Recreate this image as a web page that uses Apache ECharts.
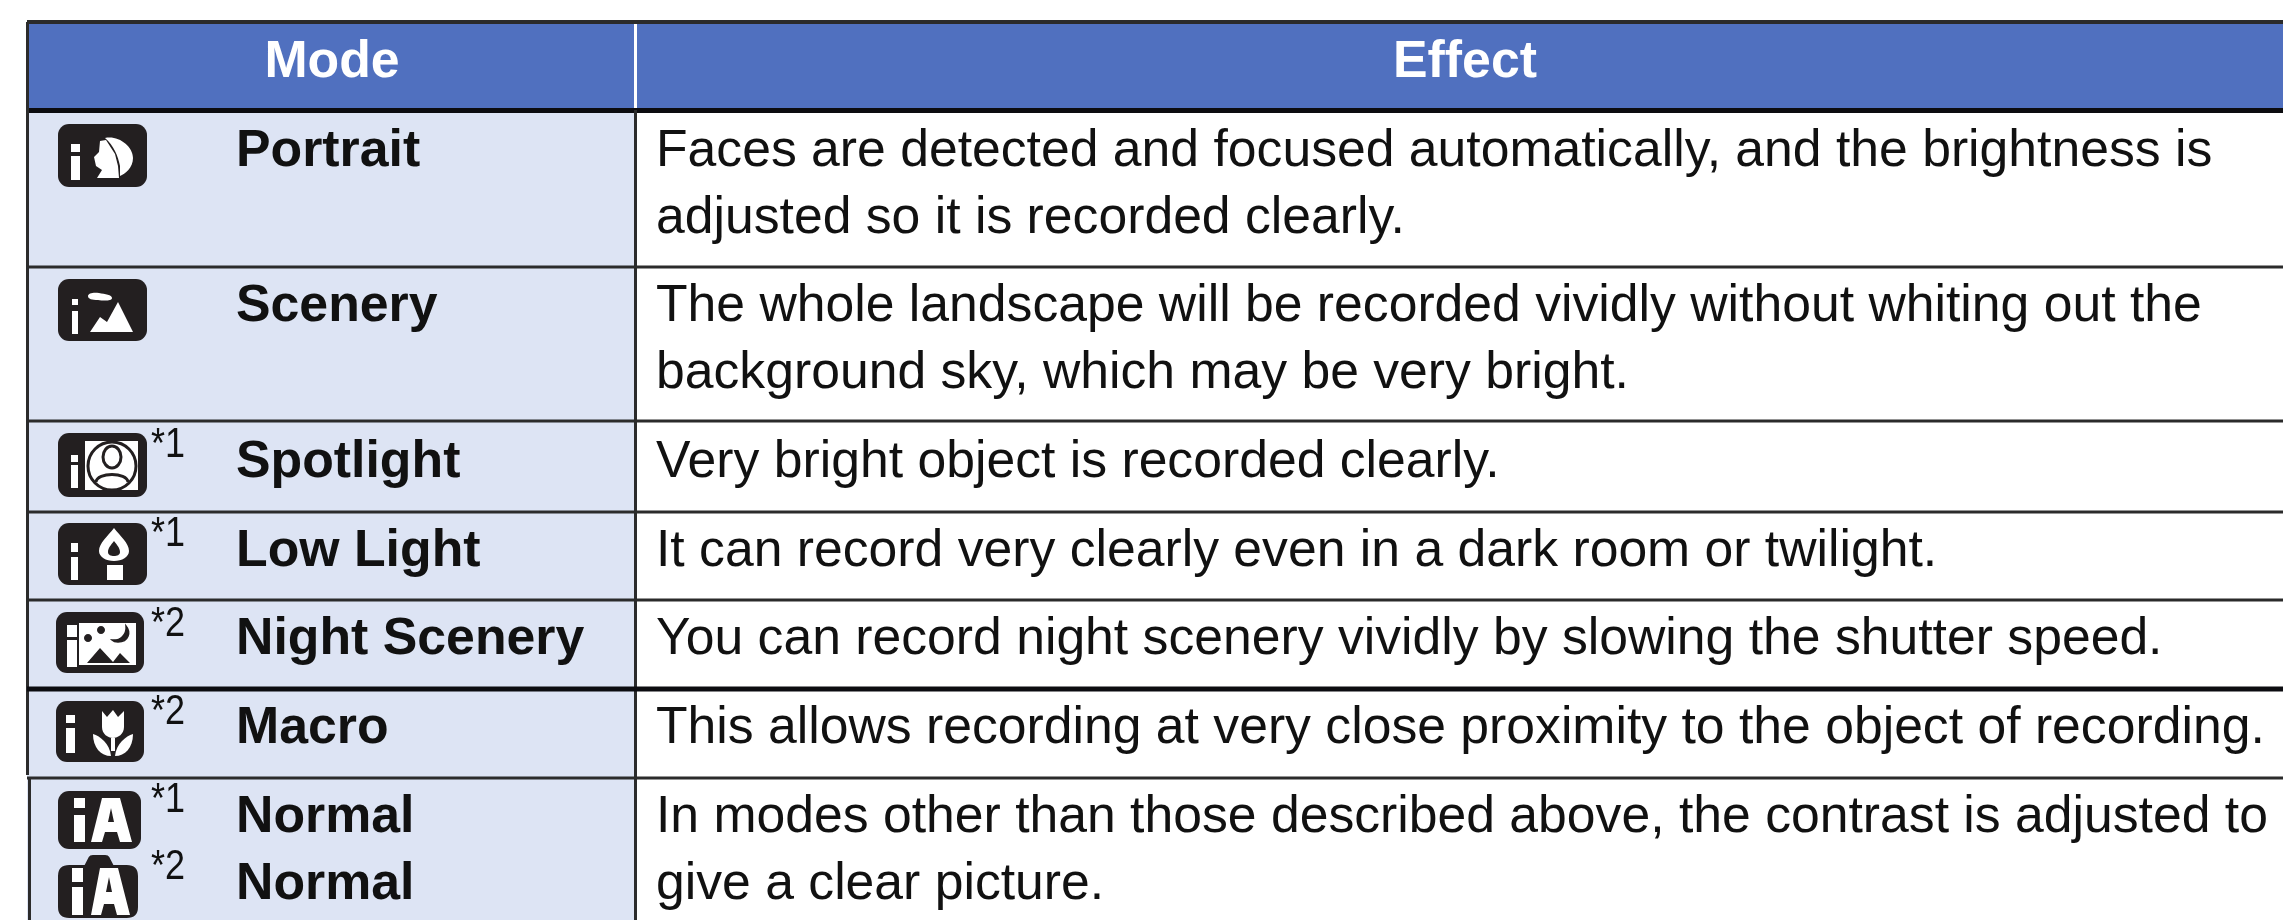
<!DOCTYPE html>
<html>
<head>
<meta charset="utf-8">
<title>Mode / Effect</title>
<style>
  html, body { margin: 0; padding: 0; background: #fff; }
  #main { width: 2283px; height: 920px; }
</style>
</head>
<body>
<div id="main"></div>
<script src="https://cdn.jsdelivr.net/npm/echarts@6/dist/echarts.min.js"></script>
<script>
// table content
const headers = ['Mode', 'Effect']
const modeLabels = ['Portrait', 'Scenery', 'Spotlight', 'Low Light', 'Night Scenery', 'Macro', 'Normal', 'Normal']
const footnotes = ['', '', '*1', '*1', '*2', '*2', '*1', '*2']
const effectLines = [
  'Faces are detected and focused automatically, and the brightness is',
  'adjusted so it is recorded clearly.',
  'The whole landscape will be recorded vividly without whiting out the',
  'background sky, which may be very bright.',
  'Very bright object is recorded clearly.',
  'It can record very clearly even in a dark room or twilight.',
  'You can record night scenery vividly by slowing the shutter speed.',
  'This allows recording at very close proximity to the object of recording.',
  'In modes other than those described above, the contrast is adjusted to',
  'give a clear picture.'
]
const iconNames = ['portrait', 'scenery', 'spotlight', 'lowLight', 'night', 'macro', 'iaPlain', 'iaCamera']

// layout, in pixels of the 2283x920 picture
const W = 2283
const H = 920
const tableLeft = 27
const dividerX = 635
const tableTop = 22
const headerBottom = 110
const rowEdges = [267, 421, 512, 600, 689, 778]
const rowEdgeWidths = [3, 3, 3, 3, 5, 3]
const modeTextX = 236
const effectTextX = 656
const footnoteX = 151
const headerCenters = [332, 1465]
const headerY = 63
const modeTextY = [152, 307, 463, 552, 640, 729, 818, 885]
const effectTextY = [152, 219, 307, 374, 463, 552, 640, 729, 818, 885]
const footnoteY = [0, 0, 445, 534, 624, 712, 800, 867]
const iconBoxes = [
  [58, 124, 89, 63], [58, 279, 89, 62], [58, 433, 89, 64], [58, 523, 89, 62],
  [56, 612, 88, 61], [56, 701, 88, 61], [58, 791, 83, 58], [58, 855, 80, 63]
]

const fontFamily = '"Liberation Sans", Arial, sans-serif'
const bodyFontSize = 51.7
const boldFontSize = 51.8
const inkColor = '#111111'
const iconColor = '#231f20'
const lineColor = '#2b2b2b'

// icon artwork, local pixels from the top-left of each icon box
const G = {
  portrait: [
    { d: 'M13 20H22V28H13ZM13 32H22V56H13Z' },
    { d: 'M47 14C60 11 75 22 75 34C75 44 67 50 62 52L62 42C60 32 56 22 47 14Z' },
    { d: 'M42 17L48 16L57 30L60 42L61 54L39 54L44 46L38 42L36 33L41 28Z' }
  ],
  scenery: [
    { d: 'M14 20H20V26H14ZM14 32H20V55H14Z' },
    { d: 'M30 17C30 14 36 13 41 14C47 15 54 16 54 19C54 22 46 22 40 21C34 21 30 20 30 17Z' },
    { d: 'M32 53L42 38L49 43L60 23L75 53Z' }
  ],
  spotlight: [
    { d: 'M13 22H20V29H13ZM13 32H20V55H13Z' },
    { d: 'M27 8H80V57H27Z' },
    { ellipse: [54, 33, 24, 24], stroke: iconColor, lw: 3 },
    { ellipse: [54, 24, 9, 11], stroke: iconColor, lw: 3 },
    { d: 'M38 49C39 39 69 39 70 49', stroke: iconColor, lw: 3 }
  ],
  lowLight: [
    { d: 'M13 20H20V29H13ZM13 34H20V57H13Z' },
    { d: 'M56 5C62 13 71 20 71 28C71 34 64 38 56 38C48 38 41 34 41 28C41 20 50 13 56 5Z' },
    { d: 'M56 18C59 22 62 25 62 29C62 32 59 33 56 33C53 33 50 32 50 29C50 25 53 22 56 18Z', fill: iconColor },
    { d: 'M49 42H65V57H49Z' }
  ],
  night: [
    { d: 'M11 13H21V25H11ZM11 28H21V55H11Z' },
    { d: 'M23 11H80V53H23Z' },
    { ellipse: [32, 26, 4, 4], fill: iconColor },
    { ellipse: [45, 18, 4, 4], fill: iconColor },
    { d: 'M70 14C75 20 73 30 62 30C59 30 57 29 56 28C64 29 71 23 70 14Z', fill: iconColor, stroke: iconColor, lw: 1.5 },
    { d: 'M31 51L44 36L57 50L64 41L74 51Z', fill: iconColor }
  ],
  macro: [
    { d: 'M10 14H19V22H10ZM10 27H19V52H10Z' },
    { d: 'M46 10L51 16L57 9L62 16L68 10V26C68 33 62 37 57 37C52 37 46 33 46 26Z' },
    { d: 'M55 37H59V50H55Z' },
    { d: 'M37 33C44 35 54 43 55 55C45 55 37 47 37 33Z' },
    { d: 'M77 33C70 35 60 43 59 55C69 55 77 47 77 33Z' }
  ],
  iaPlain: [
    { d: 'M16 7H27V17H16ZM16 24H27V51H16Z' },
    { d: 'M44 7H62L74 51H62L59 41H47L44 51H33Z' },
    { d: 'M50 31H56L53 17Z', fill: iconColor }
  ],
  iaCamera: [
    { d: 'M14 13H25V27H14ZM14 32H25V60H14Z' },
    { d: 'M42 13H60L72 60H59L56 49H46L43 60H33Z' },
    { d: 'M48 37H54L51 22Z', fill: iconColor }
  ]
}

const camBody = 'M12 10L27 10L31 2Q32 0 35 0L47 0Q50 0 51 2L55 10L68 10Q79 10 79 21L79 52Q79 63 68 63L12 63Q1 63 1 52L1 21Q1 10 12 10Z'

function renderText(params, api) {
  let p = api.coord([api.value(0), api.value(1)])
  let item = textItems[params.dataIndex]
  return {
    type: 'text',
    x: p[0],
    y: p[1],
    scaleY: item.scaleY || 1,
    silent: true,
    style: {
      text: item.text,
      fill: item.color,
      fontFamily: fontFamily,
      fontSize: item.size,
      fontWeight: item.weight,
      textAlign: item.align,
      textVerticalAlign: 'middle'
    }
  }
}

function renderBlock(params, api) {
  let a = api.coord([api.value(0), api.value(1)])
  let b = api.coord([api.value(2), api.value(3)])
  return {
    type: 'rect',
    silent: true,
    shape: { x: a[0], y: a[1], width: b[0] - a[0], height: b[1] - a[1] },
    style: { fill: blockItems[params.dataIndex].color }
  }
}

function renderIcon(params, api) {
  let a = api.coord([api.value(0), api.value(1)])
  let w = api.value(2)
  let h = api.value(3)
  let name = iconNames[params.dataIndex]
  let children = []
  if (name === 'iaCamera') {
    children.push({ type: 'path', shape: { pathData: camBody, x: 0, y: 0, width: w, height: h, layout: 'cover' }, style: { fill: iconColor } })
  } else {
    children.push({ type: 'rect', shape: { x: 0, y: 0, width: w, height: h, r: 11 }, style: { fill: iconColor } })
  }
  G[name].forEach(function (g) {
    let style = { fill: g.fill || (g.stroke ? 'none' : '#fff'), stroke: g.stroke || null, lineWidth: g.lw || 0 }
    if (g.ellipse) {
      children.push({ type: 'ellipse', shape: { cx: g.ellipse[0], cy: g.ellipse[1], rx: g.ellipse[2], ry: g.ellipse[3] }, style: style })
    } else {
      children.push({ type: 'path', shape: { d: g.d }, style: style })
    }
  })
  return { type: 'group', x: a[0], y: a[1], silent: true, children: children }
}

// cell fills, rules
let blockItems = [
  { box: [tableLeft, tableTop, W, headerBottom], color: '#5070bf' },
  { box: [tableLeft, headerBottom, dividerX, H], color: '#dde4f4' },
  // rules
  { box: [tableLeft, tableTop - 2, W, tableTop + 2], color: lineColor },
  { box: [tableLeft, headerBottom - 2, W, headerBottom + 3], color: '#0c0c10' },
  { box: [tableLeft - 1, tableTop, tableLeft + 2, 775], color: lineColor },
  { box: [tableLeft + 1, 778, tableLeft + 4, H], color: lineColor },
  { box: [dividerX - 1, tableTop + 2, dividerX + 2, headerBottom - 2], color: '#ffffff' },
  { box: [dividerX - 1, headerBottom, dividerX + 2, H], color: lineColor }
]
rowEdges.forEach(function (y, i) {
  let half = rowEdgeWidths[i] / 2
  blockItems.push({ box: [tableLeft, y - half, W, y + half], color: i === 4 ? '#0c0c10' : lineColor })
})

let textItems = []
headers.forEach(function (t, i) {
  textItems.push({ pos: [headerCenters[i], headerY], text: t, color: '#fff', size: boldFontSize, weight: 'bold', align: 'center' })
})
modeLabels.forEach(function (t, i) {
  textItems.push({ pos: [modeTextX, modeTextY[i]], text: t, color: inkColor, size: boldFontSize, weight: 'bold', align: 'left' })
})
effectLines.forEach(function (t, i) {
  textItems.push({ pos: [effectTextX, effectTextY[i]], text: t, color: inkColor, size: bodyFontSize, weight: 'normal', align: 'left' })
})
// the footnote marks are taller than they are wide in the source
footnotes.forEach(function (t, i) {
  if (t) textItems.push({ pos: [footnoteX, footnoteY[i]], text: t, color: inkColor, size: 36, scaleY: 1.2, weight: 'normal', align: 'left' })
})

let chart = echarts.init(document.getElementById('main'), null, { renderer: 'canvas' })
chart.setOption({
  animation: false,
  backgroundColor: '#fff',
  tooltip: { show: false },
  grid: { left: 0, right: 0, top: 0, bottom: 0 },
  xAxis: { type: 'value', min: 0, max: W, show: false },
  yAxis: { type: 'value', min: 0, max: H, inverse: true, show: false },
  series: [
    {
      name: 'cells',
      type: 'custom',
      coordinateSystem: 'cartesian2d',
      renderItem: renderBlock,
      data: blockItems.map(function (b) { return b.box }),
      encode: { x: [0, 2], y: [1, 3] },
      clip: false,
      z: 1
    },
    {
      name: 'icons',
      type: 'custom',
      coordinateSystem: 'cartesian2d',
      renderItem: renderIcon,
      data: iconBoxes,
      encode: { x: 0, y: 1 },
      clip: false,
      z: 2
    },
    {
      name: 'text',
      type: 'custom',
      coordinateSystem: 'cartesian2d',
      renderItem: renderText,
      data: textItems.map(function (t) { return t.pos }),
      encode: { x: 0, y: 1 },
      clip: false,
      z: 3
    }
  ]
})
</script>
</body>
</html>
